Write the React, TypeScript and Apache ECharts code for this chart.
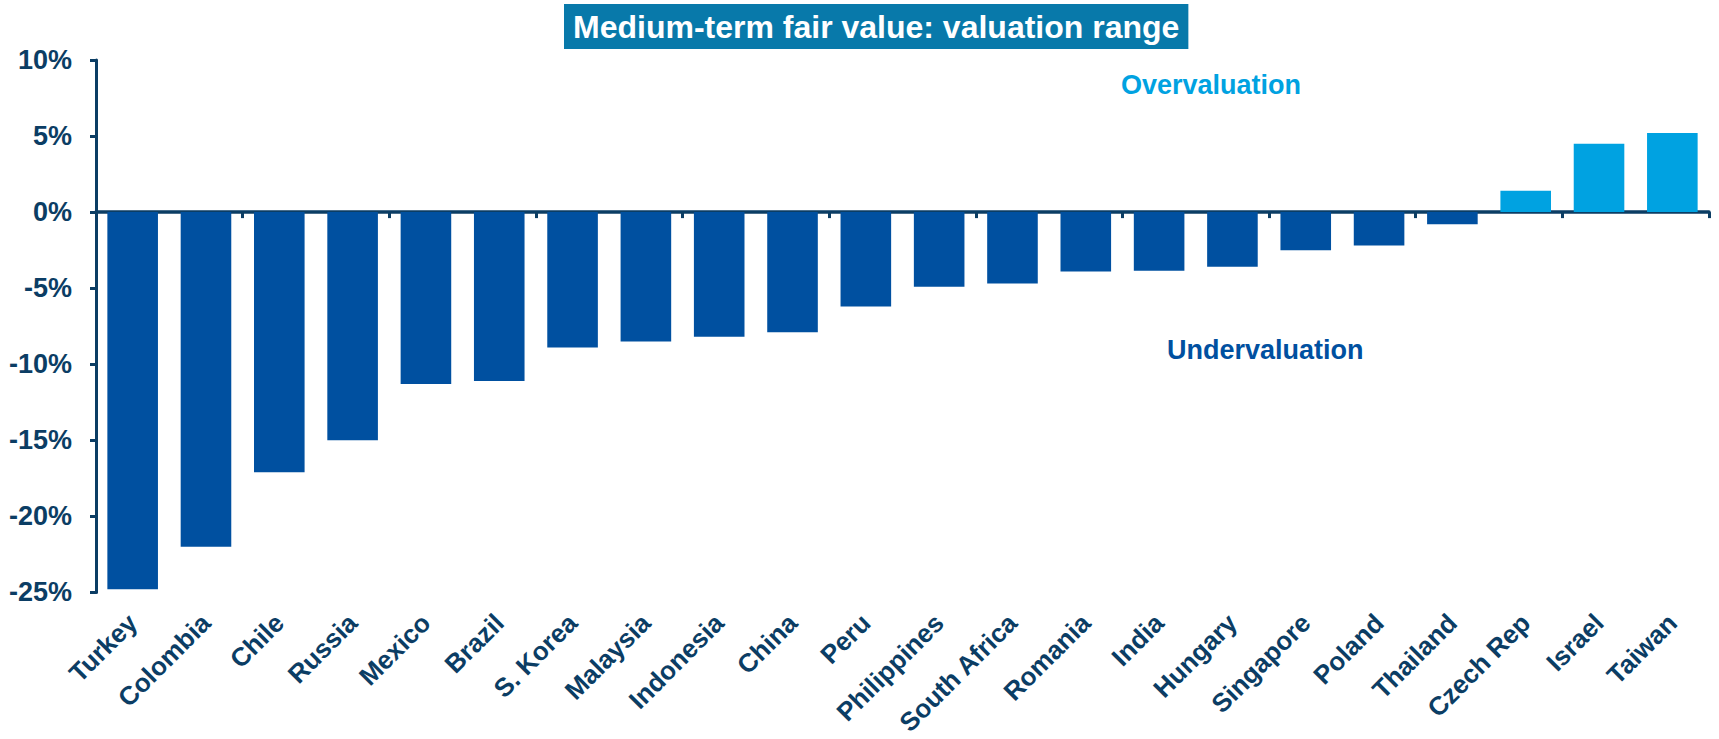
import React, { useEffect, useRef } from "react";
import * as echarts from "echarts";

const categories = [
  "Turkey", "Colombia", "Chile", "Russia", "Mexico", "Brazil", "S. Korea",
  "Malaysia", "Indonesia", "China", "Peru", "Philippines", "South Africa",
  "Romania", "India", "Hungary", "Singapore", "Poland", "Thailand",
  "Czech Rep", "Israel", "Taiwan",
];

const values = [
  -24.8, -22.0, -17.1, -15.0, -11.3, -11.1, -8.9, -8.5, -8.2, -7.9, -6.2,
  -4.9, -4.7, -3.9, -3.85, -3.6, -2.5, -2.2, -0.8, 1.4, 4.5, 5.2,
];

const yMin = -25;
const yMax = 10;
const yStep = 5;

const titleText = "Medium-term fair value: valuation range";
const overText = "Overvaluation";
const underText = "Undervaluation";

const FONT = "'Liberation Sans', Arial, Helvetica, sans-serif";
const NAVY = "#0B3D64";
const DARK = "#0050A0";
const LIGHT = "#00A2E1";

export default function App() {
  const ref = useRef<HTMLDivElement>(null);
  useEffect(() => {
    if (!ref.current) return;
    const chart = echarts.init(ref.current, undefined, { renderer: "svg" });
    chart.setOption({
      animation: false,
      backgroundColor: "#ffffff",
      title: {
        text: titleText,
        left: 564,
        top: 4,
        backgroundColor: "#0879AA",
        padding: [6, 9, 6, 9],
        textStyle: {
          color: "#ffffff",
          fontFamily: FONT,
          fontWeight: "bold",
          fontSize: 32,
          lineHeight: 33,
        },
      },
      grid: { left: 96, right: 10, top: 60, bottom: 145, containLabel: false },
      xAxis: [
        {
          type: "category",
          data: categories,
          axisLine: { onZero: true, lineStyle: { color: NAVY, width: 3.5 } },
          axisTick: { show: true, length: 6, lineStyle: { color: NAVY, width: 3 } },
          axisLabel: { show: false },
          splitLine: { show: false },
        },
        {
          type: "category",
          data: categories,
          position: "bottom",
          axisLine: { show: false, onZero: false },
          axisTick: { show: false },
          axisLabel: {
            show: true,
            interval: 0,
            rotate: 45,
            margin: 26,
            color: NAVY,
            fontFamily: FONT,
            fontWeight: "bold",
            fontSize: 26,
          },
          splitLine: { show: false },
        },
      ],
      yAxis: {
        type: "value",
        min: yMin,
        max: yMax,
        interval: yStep,
        axisLine: { show: true, lineStyle: { color: NAVY, width: 3 } },
        axisTick: { show: true, length: 6, lineStyle: { color: NAVY, width: 3 } },
        axisLabel: {
          margin: 24,
          color: NAVY,
          fontFamily: FONT,
          fontWeight: "bold",
          fontSize: 27,
          formatter: "{value}%",
        },
        splitLine: { show: false },
      },
      series: [
        {
          type: "bar",
          xAxisIndex: 0,
          data: values.map((v) => ({
            value: v,
            itemStyle: { color: v >= 0 ? LIGHT : DARK },
          })),
          barCategoryGap: "31%",
        },
      ],
      graphic: [
        {
          type: "text",
          left: 1121,
          top: 71,
          style: {
            text: overText,
            fill: LIGHT,
            font: `bold 27px ${FONT}`,
          },
        },
        {
          type: "text",
          left: 1167,
          top: 336,
          style: {
            text: underText,
            fill: DARK,
            font: `bold 27px ${FONT}`,
          },
        },
      ],
    });
    return () => chart.dispose();
  }, []);
  return (
    <div
      ref={ref}
      style={{ position: "fixed", left: 0, top: 0, width: 1719, height: 739 }}
    />
  );
}
